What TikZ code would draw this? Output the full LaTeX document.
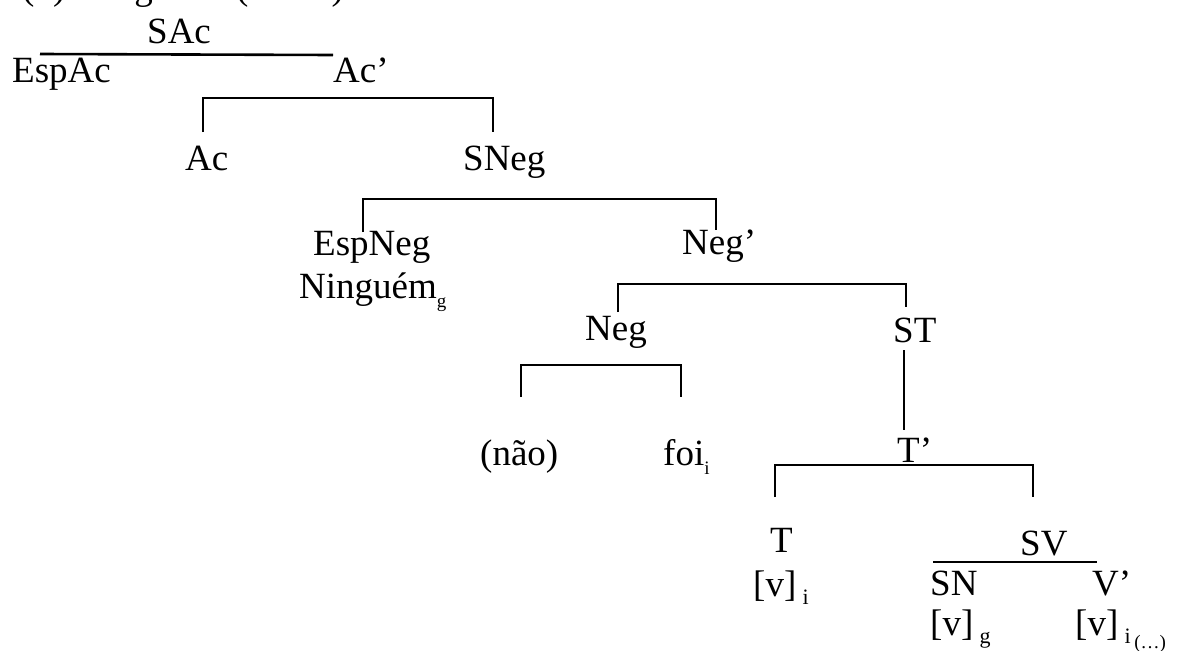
\documentclass[tikz,border=0pt]{standalone}
\usepackage{fontspec}
\setmainfont{Liberation Serif}
\newcommand{\sub}[1]{\raisebox{-0.22em}{\fontsize{22}{24}\selectfont #1}}
\newcommand{\ssub}[1]{\raisebox{-0.25em}{\fontsize{19}{21}\selectfont #1}}
\begin{document}
\begin{tikzpicture}[x=1pt,y=-1pt,
  lbl/.style={inner sep=0pt, anchor=base west, font=\fontsize{37}{44}\selectfont},
  branch/.style={line width=2.6pt, line cap=butt, line join=miter}]
\useasboundingbox (0,0) rectangle (1179,651);
\fill[white] (0,0) rectangle (1179,651);

% heading line, cut by the page edge
\node[lbl] (cap) at (22,-1) {(5)\hspace{26pt}Negativo (a seta).};

% labels of the tree
\node[lbl] (sac)    at (147,43)  {SAc};
\node[lbl] (espac)  at (12,82)   {EspAc};
\node[lbl] (acb)    at (333,82)  {Ac’};
\node[lbl] (ac)     at (185,170) {Ac};
\node[lbl] (sneg)   at (463,170) {SNeg};
\node[lbl] (espneg) at (313,255) {EspNeg};
\node[lbl] (ning)   at (299,298) {Ninguém\ssub{g}};
\node[lbl] (negb)   at (682,254) {Neg’};
\node[lbl] (neg)    at (585,340) {Neg};
\node[lbl] (st)     at (893,342) {ST};
\node[lbl] (nao)    at (480,465) {(não)};
\node[lbl] (foi)    at (663,465) {foi\ssub{i}};
\node[lbl] (tb)     at (897,462) {T’};
\node[lbl] (t)      at (770,552) {T};
\node[lbl] (vi)     at (753,596) {[v]\,\sub{i}};
\node[lbl] (sv)     at (1020,555){SV};
\node[lbl] (sn)     at (930,595) {SN};
\node[lbl] (vb)     at (1092,595){V’};
\node[lbl] (vg)     at (930,635) {[v]\,\sub{g}};
\node[lbl] (vi2)    at (1075,635){[v]\,\sub{i\,\ssub{(\ldots)}}};

% branch ends
\coordinate (sacL) at (40,54);   \coordinate (sacR) at (333,55);
\coordinate (acL)  at (203,132); \coordinate (acR)  at (493,132);
\coordinate (snL)  at (363,232); \coordinate (snR)  at (716,230);
\coordinate (ngL)  at (618,312); \coordinate (ngR)  at (906,307);
\coordinate (nL)   at (521,397); \coordinate (nR)   at (681,397);
\coordinate (stT)  at (904,350); \coordinate (stB)  at (904,430);
\coordinate (tL)   at (775,497); \coordinate (tR)   at (1033,497);
\coordinate (svL)  at (933,562); \coordinate (svR)  at (1097,562);

% branches
\draw[branch] (sacL) -- (sacR);
\draw[branch] (acL) -- ++(0,-34) -| (acR);
\draw[branch] (snL) -- ++(0,-33) -| (snR);
\draw[branch] (ngL) -- ++(0,-28) -| (ngR);
\draw[branch] (nL) -- ++(0,-32) -| (nR);
\draw[branch] (stT) -- (stB);
\draw[branch] (tL) -- ++(0,-32) -| (tR);
\draw[branch] (svL) -- (svR);
\end{tikzpicture}
\end{document}
